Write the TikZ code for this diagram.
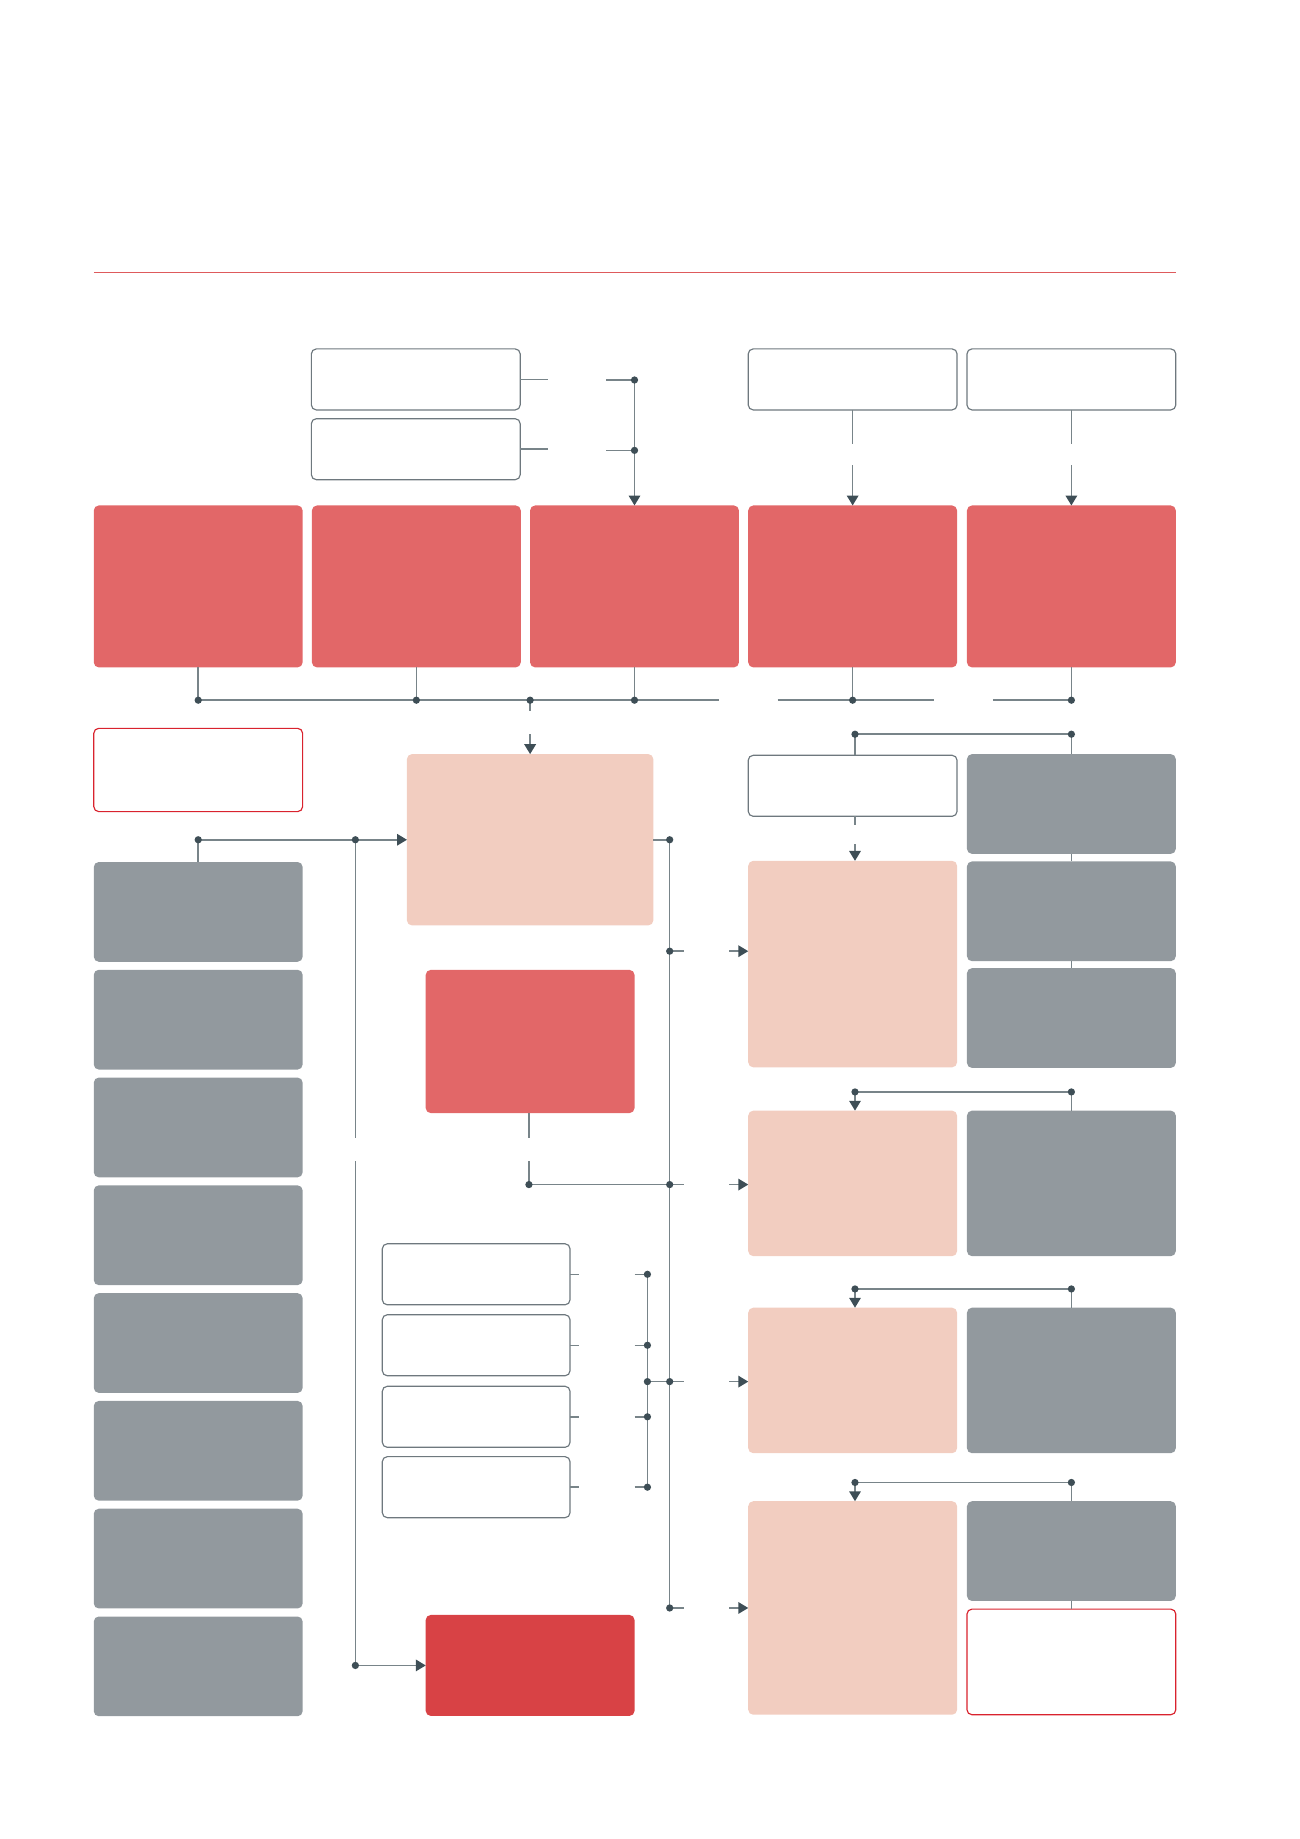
\documentclass[tikz,border=0pt]{standalone}
\usetikzlibrary{arrows.meta,positioning}
\definecolor{cRed}{RGB}{226,103,104}
\definecolor{cDeep}{RGB}{216,66,69}
\definecolor{cPink}{RGB}{242,205,192}
\definecolor{cGray}{RGB}{146,153,158}
\definecolor{cLine}{RGB}{120,132,137}
\definecolor{cDot}{RGB}{62,78,86}
\definecolor{cRule}{RGB}{222,90,92}
\definecolor{cOutline}{RGB}{217,35,46}
\definecolor{cFrame}{RGB}{110,120,126}

\begin{document}
\begin{tikzpicture}[x=0.025cm, y=-0.025cm,
    box/.style={inner sep=0pt, outer sep=0pt, rounded corners=3pt, minimum width=4.45cm},
    redbox/.style={box, fill=cRed, minimum height=3.45cm},
    graybox/.style={box, fill=cGray, minimum height=2.125cm},
    pinkbox/.style={box, fill=cPink},
    whitebox/.style={box, draw=cFrame, line width=0.7pt, fill=white, minimum height=1.3cm},
    notebox/.style={box, draw=cOutline, line width=0.7pt, fill=white},
    link/.style={cLine, line width=0.9pt},
    tip/.style={-{Triangle[length=6pt,width=7pt,color=cDot]}}]
  \useasboundingbox (0,0) rectangle (1108,1568);
  % header rule
  \draw[cRule, line width=0.7pt] (80,232) -- (1003,232);
  % inputs on top
  \node[whitebox] (inA) at (354.5,323.5) {};
  \node[whitebox] (inB) at (354.5,383) {};
  \node[whitebox] (inC) at (727,323.5) {};
  \node[whitebox] (inD) at (913.5,323.5) {};
  % red row
  \node[redbox] (r1) at (169,500) {};
  \node[redbox] (r2) at (355,500) {};
  \node[redbox] (r3) at (541,500) {};
  \node[redbox] (r4) at (727,500) {};
  \node[redbox] (r5) at (913.5,500) {};
  \coordinate (jA) at (541,324);
  \coordinate (jB) at (541,384);
  \draw[link] (inA.east) -- ++(24,0);
  \draw[link] (inB.east) -- ++(24,0);
  \draw[link] (jA) ++(-24,0) -- (jA);
  \draw[link] (jB) ++(-24,0) -- (jB);
  \draw[link, tip] (jA) -- (r3.north);
  \draw[link] (inC.south) -- ++(0,29);
  \draw[link, tip] (inC.south) ++(0,47) -- (r4.north);
  \draw[link] (inD.south) -- ++(0,29);
  \draw[link, tip] (inD.south) ++(0,47) -- (r5.north);
  % bus under red row
  \coordinate (b1) at (169,597);
  \coordinate (b2) at (355,597);
  \coordinate (b3) at (541,597);
  \coordinate (b4) at (727,597);
  \coordinate (b5) at (913.5,597);
  \coordinate (bm) at (452,597);
  \foreach \i in {1,...,5}
    \draw[link] (r\i.south) -- (b\i);
  \draw[link] (b1) -- ++(444,0);
  \draw[link] (b4) ++(-64,0) -- ++(133,0);
  \draw[link] (b5) ++(-67,0) -- (b5);
  % central block
  \node[pinkbox, minimum width=5.25cm, minimum height=3.65cm] (p1) at (452,716) {};
  \draw[link] (bm) -- ++(0,9);
  \draw[link, tip] (bm) ++(0,29) -- (p1.north);
  \node[notebox, minimum height=1.775cm] (note1) at (169,656.5) {};
  % left column
  \foreach \i in {0,...,7}
    \node[graybox] (g\i) at (169,777.5+91.9*\i) {};
  \coordinate (sL) at (169,716);
  \coordinate (sM) at (303,716);
  \draw[link] (sL) -- (g0.north);
  \draw[link, tip] (sL) -- (p1.west);
  \draw[link] (sM) -- ++(0,254);
  \node[redbox, minimum height=3.05cm] (r6) at (452,888) {};
  \node[box, fill=cDeep, minimum height=2.15cm] (r7) at (452,1420) {};
  \coordinate (sD) at (303,1420);
  \draw[link] (sD) ++(0,-430) -- (sD);
  \draw[link, tip] (sD) -- (r7.west);
  % trunk
  \coordinate (t0) at (571,716);
  \coordinate (t1) at (571,811);
  \coordinate (t2) at (571,1010);
  \coordinate (t3) at (571,1178);
  \coordinate (t4) at (571,1371);
  \draw[link] (p1.east) -- (t0) -- (t4);
  \coordinate (m2) at (451,1010);
  \draw[link] (m2 |- r6.south) -- ++(0,21);
  \draw[link] (m2) ++(0,-20) -- (m2) -- (t2);
  % small inputs
  \foreach \i/\y in {1/1086.5, 2/1147, 3/1208, 4/1268} {
    \node[whitebox, minimum width=4cm] (s\i) at (406,\y) {};
    \draw[link] (s\i.east) -- ++(8,0);
    \draw[link] (s\i.east) ++(55,0) -- ++(11,0) coordinate (q\i);
  }
  \coordinate (qm) at (552,1178);
  \draw[link] (q1) -- (q4);
  \draw[link] (qm) -- (t3);
  % right side
  \node[whitebox, minimum height=1.3cm] (c2) at (727,670) {};
  \node[pinkbox, minimum height=4.4cm] (p2) at (727,822) {};
  \node[pinkbox, minimum height=3.1cm] (p3) at (727,1009) {};
  \node[pinkbox, minimum height=3.1cm] (p4) at (727,1177) {};
  \node[pinkbox, minimum height=4.55cm] (p5) at (727,1371) {};
  \node[graybox] (h1) at (913.5,685.5) {};
  \node[graybox] (h2) at (913.5,777) {};
  \node[graybox] (h3) at (913.5,868) {};
  \node[graybox, minimum height=3.1cm] (h4) at (913.5,1009) {};
  \node[graybox, minimum height=3.1cm] (h5) at (913.5,1177) {};
  \node[graybox] (h6) at (913.5,1322.5) {};
  \node[notebox, minimum height=2.25cm] (note2) at (913.5,1417) {};
  \draw[link] (h1.south) -- (h2.north);
  \draw[link] (h2.south) -- (h3.north);
  \draw[link] (h6.south) -- (note2.north);
  \foreach \i/\n in {1/p2, 2/p3, 3/p4, 4/p5} {
    \draw[link] (t\i) -- ++(12,0);
    \draw[link, tip] (\n.west |- t\i) ++(-16,0) -- (\n.west |- t\i);
  }
  \coordinate (k1) at (729,626);
  \coordinate (k1r) at (913.5,626);
  \draw[link] (k1) -- (k1r) -- (h1.north);
  \draw[link] (k1) -- (k1 |- c2.north);
  \draw[link] (k1 |- c2.south) -- ++(0,7);
  \draw[link, tip] (k1 |- c2.south) ++(0,24) -- (k1 |- p2.north);
  \foreach \y/\a/\b in {931/p3/h4, 1099/p4/h5, 1264/p5/h6} {
    \draw[link] (729,\y) coordinate (kl) -- (913.5,\y) coordinate (kr) -- (\b.north);
    \draw[link, tip] (kl) -- (kl |- \a.north);
    \fill[cDot] (kl) circle (2.2pt);
    \fill[cDot] (kr) circle (2.2pt);
  }
  % junction dots
  \foreach \c in {jA,jB,b1,b2,b3,b4,b5,bm,sL,sM,sD,t0,t1,t2,t3,t4,m2,q1,q2,q3,q4,qm,k1,k1r}
    \fill[cDot] (\c) circle (2.2pt);
\end{tikzpicture}
\end{document}
